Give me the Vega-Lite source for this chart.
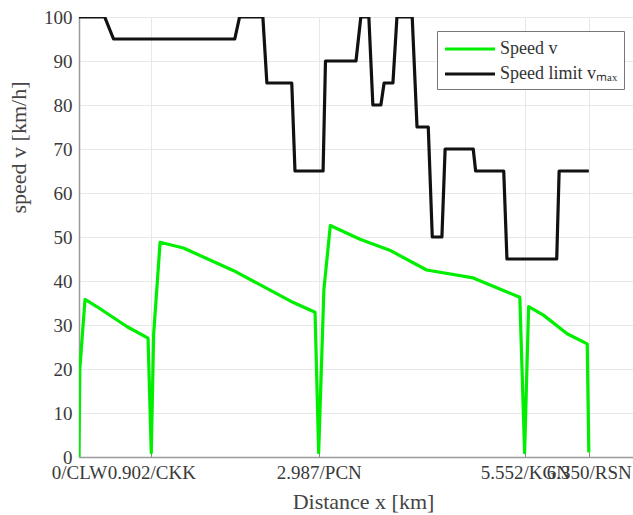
{
  "$schema": "https://vega.github.io/schema/vega-lite/v6.json",
  "autosize": "none",
  "width": 554,
  "height": 440,
  "padding": {"left": 79, "top": 17, "right": 0, "bottom": 58},
  "background": "white",
  "config": {
    "view": {"stroke": null},
    "font": "Liberation Serif",
    "axis": {"labelFont": "Liberation Serif", "titleFont": "Liberation Serif", "titleFontWeight": "normal"},
    "legend": {"labelFont": "Liberation Serif"}
  },
  "data": {
    "values": [
      {"s": "Speed v", "i": 0, "x": 0, "v": 0},
      {"s": "Speed v", "i": 1, "x": 0.01, "v": 20},
      {"s": "Speed v", "i": 2, "x": 0.075, "v": 35.8},
      {"s": "Speed v", "i": 3, "x": 0.22, "v": 34.2},
      {"s": "Speed v", "i": 4, "x": 0.6, "v": 29.6},
      {"s": "Speed v", "i": 5, "x": 0.86, "v": 27},
      {"s": "Speed v", "i": 6, "x": 0.9, "v": 1},
      {"s": "Speed v", "i": 7, "x": 0.93, "v": 28},
      {"s": "Speed v", "i": 8, "x": 1.01, "v": 48.8},
      {"s": "Speed v", "i": 9, "x": 1.3, "v": 47.5},
      {"s": "Speed v", "i": 10, "x": 1.92, "v": 42.4},
      {"s": "Speed v", "i": 11, "x": 2.67, "v": 35.1},
      {"s": "Speed v", "i": 12, "x": 2.94, "v": 32.9},
      {"s": "Speed v", "i": 13, "x": 2.985, "v": 1},
      {"s": "Speed v", "i": 14, "x": 3.05, "v": 38},
      {"s": "Speed v", "i": 15, "x": 3.13, "v": 52.6},
      {"s": "Speed v", "i": 16, "x": 3.5, "v": 49.5},
      {"s": "Speed v", "i": 17, "x": 3.87, "v": 47},
      {"s": "Speed v", "i": 18, "x": 4.33, "v": 42.5},
      {"s": "Speed v", "i": 19, "x": 4.91, "v": 40.7},
      {"s": "Speed v", "i": 20, "x": 5.49, "v": 36.3},
      {"s": "Speed v", "i": 21, "x": 5.55, "v": 1},
      {"s": "Speed v", "i": 22, "x": 5.6, "v": 34.2},
      {"s": "Speed v", "i": 23, "x": 5.78, "v": 32.3},
      {"s": "Speed v", "i": 24, "x": 6.08, "v": 28},
      {"s": "Speed v", "i": 25, "x": 6.33, "v": 25.7},
      {"s": "Speed v", "i": 26, "x": 6.35, "v": 1},
      {"s": "Speed limit vₘₐₓ", "i": 0, "x": 0, "v": 100},
      {"s": "Speed limit vₘₐₓ", "i": 1, "x": 0.32, "v": 100},
      {"s": "Speed limit vₘₐₓ", "i": 2, "x": 0.43, "v": 95},
      {"s": "Speed limit vₘₐₓ", "i": 3, "x": 1.94, "v": 95},
      {"s": "Speed limit vₘₐₓ", "i": 4, "x": 2.0, "v": 100},
      {"s": "Speed limit vₘₐₓ", "i": 5, "x": 2.29, "v": 100},
      {"s": "Speed limit vₘₐₓ", "i": 6, "x": 2.34, "v": 85},
      {"s": "Speed limit vₘₐₓ", "i": 7, "x": 2.65, "v": 85},
      {"s": "Speed limit vₘₐₓ", "i": 8, "x": 2.69, "v": 65},
      {"s": "Speed limit vₘₐₓ", "i": 9, "x": 3.04, "v": 65},
      {"s": "Speed limit vₘₐₓ", "i": 10, "x": 3.07, "v": 90},
      {"s": "Speed limit vₘₐₓ", "i": 11, "x": 3.45, "v": 90},
      {"s": "Speed limit vₘₐₓ", "i": 12, "x": 3.51, "v": 100},
      {"s": "Speed limit vₘₐₓ", "i": 13, "x": 3.61, "v": 100},
      {"s": "Speed limit vₘₐₓ", "i": 14, "x": 3.66, "v": 80},
      {"s": "Speed limit vₘₐₓ", "i": 15, "x": 3.76, "v": 80},
      {"s": "Speed limit vₘₐₓ", "i": 16, "x": 3.8, "v": 85},
      {"s": "Speed limit vₘₐₓ", "i": 17, "x": 3.91, "v": 85},
      {"s": "Speed limit vₘₐₓ", "i": 18, "x": 3.96, "v": 100},
      {"s": "Speed limit vₘₐₓ", "i": 19, "x": 4.15, "v": 100},
      {"s": "Speed limit vₘₐₓ", "i": 20, "x": 4.21, "v": 75},
      {"s": "Speed limit vₘₐₓ", "i": 21, "x": 4.35, "v": 75},
      {"s": "Speed limit vₘₐₓ", "i": 22, "x": 4.4, "v": 50},
      {"s": "Speed limit vₘₐₓ", "i": 23, "x": 4.52, "v": 50},
      {"s": "Speed limit vₘₐₓ", "i": 24, "x": 4.56, "v": 70},
      {"s": "Speed limit vₘₐₓ", "i": 25, "x": 4.91, "v": 70},
      {"s": "Speed limit vₘₐₓ", "i": 26, "x": 4.94, "v": 65},
      {"s": "Speed limit vₘₐₓ", "i": 27, "x": 5.29, "v": 65},
      {"s": "Speed limit vₘₐₓ", "i": 28, "x": 5.33, "v": 45},
      {"s": "Speed limit vₘₐₓ", "i": 29, "x": 5.95, "v": 45},
      {"s": "Speed limit vₘₐₓ", "i": 30, "x": 5.98, "v": 65},
      {"s": "Speed limit vₘₐₓ", "i": 31, "x": 6.35, "v": 65}
    ]
  },
  "mark": {"type": "line", "strokeWidth": 3.2, "strokeJoin": "round", "clip": true},
  "encoding": {
    "x": {
      "field": "x",
      "type": "quantitative",
      "scale": {"domain": [0, 6.9], "nice": false, "zero": false},
      "axis": {
        "values": [0, 0.902, 2.987, 5.552, 6.35],
        "labelExpr": "datum.value < 0.5 ? '0/CLW' : datum.value < 2 ? '0.902/CKK' : datum.value < 4 ? '2.987/PCN' : datum.value < 6 ? '5.552/KGN' : '6.350/RSN'",
        "labelOverlap": false,
        "labelFlush": false,
        "labelBound": false,
        "labelFontSize": 19,
        "labelColor": "#3a3a3a",
        "labelPadding": 11,
        "ticks": true,
        "tickSize": -5,
        "tickColor": "#888888",
        "domainColor": "#9a9a9a",
        "domainWidth": 1.5,
        "grid": true,
        "gridColor": "#e8e8e8",
        "gridWidth": 1,
        "title": "Distance x [km]",
        "titleFontSize": 22,
        "titleColor": "#444444",
        "titleX": 284,
        "titleY": 51,
        "titleBaseline": "alphabetic"
      }
    },
    "y": {
      "field": "v",
      "type": "quantitative",
      "scale": {"domain": [0, 100], "nice": false},
      "axis": {
        "values": [0, 10, 20, 30, 40, 50, 60, 70, 80, 90, 100],
        "labelFontSize": 19,
        "labelColor": "#3a3a3a",
        "labelPadding": 7,
        "ticks": false,
        "domainColor": "#9a9a9a",
        "domainWidth": 1.5,
        "grid": true,
        "gridColor": "#e8e8e8",
        "gridWidth": 1,
        "title": "speed v [km/h]",
        "titleFontSize": 22,
        "titleColor": "#444444",
        "titleAngle": -90,
        "titleX": -61,
        "titleY": 130,
        "titleAlign": "center",
        "titleBaseline": "middle"
      }
    },
    "color": {
      "field": "s",
      "type": "nominal",
      "scale": {"domain": ["Speed v", "Speed limit vₘₐₓ"], "range": ["#00ee00", "#111111"]},
      "legend": {
        "title": null,
        "orient": "none",
        "legendX": 358,
        "legendY": 14,
        "symbolType": "M-1,0H4",
        "symbolSize": 400,
        "symbolStrokeWidth": 3.2,
        "labelFontSize": 18,
        "labelColor": "#333333",
        "labelOffset": 33,
        "rowPadding": 4,
        "padding": 6,
        "strokeColor": "#777777",
        "fillColor": "white",
        "cornerRadius": 0
      }
    },
    "order": {"field": "i", "type": "quantitative"}
  }
}
